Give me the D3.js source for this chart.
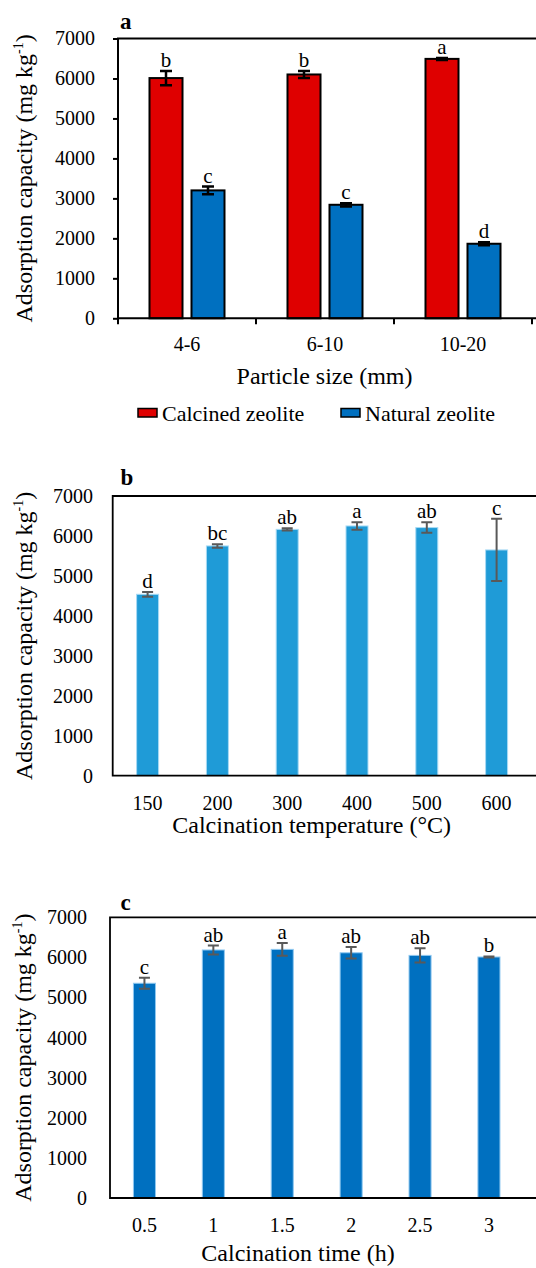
<!DOCTYPE html>
<html><head><meta charset="utf-8">
<script src="https://cdn.jsdelivr.net/npm/d3@7"></script>
<style>
body{margin:0;background:#fff;}
svg{display:block;font-family:"Liberation Serif","Times New Roman",serif;}
</style></head>
<body>
<svg id="chart" width="536" height="1268"></svg>
<script>
// ---------- Data ----------
const yTicks = [0, 1000, 2000, 3000, 4000, 5000, 6000, 7000];

const sizeCats = ["4-6", "6-10", "10-20"];
const seriesNames = ["Calcined zeolite", "Natural zeolite"];
const calcinedVals = [6010, 6100, 6490];
const calcinedErr = [180, 90, 25];
const calcinedLetters = ["b", "b", "a"];
const naturalVals = [3200, 2840, 1865];
const naturalErr = [95, 40, 40];
const naturalLetters = ["c", "c", "d"];

const tempCats = ["150", "200", "300", "400", "500", "600"];
const tempVals = [4540, 5750, 6165, 6250, 6210, 5650];
const tempErr = [60, 45, 30, 95, 130, 780];
const tempLetters = ["d", "bc", "ab", "a", "ab", "c"];

const timeCats = ["0.5", "1", "1.5", "2", "2.5", "3"];
const timeVals = [5355, 6185, 6200, 6115, 6050, 6010];
const timeErr = [135, 110, 160, 145, 180, 15];
const timeLetters = ["c", "ab", "a", "ab", "ab", "b"];

// ---------- Drawing ----------
const svg = d3.select("#chart");

function frame(g, x0, y0, y1, xEnd, sw) {
  g.append("path")
    .attr("d", `M${xEnd},${y0}H${x0}V${y1}H${xEnd}`)
    .attr("fill", "none").attr("stroke", "#000").attr("stroke-width", sw);
}

function yAxisLabels(g, y, xRight, withTicks, x0) {
  const ax = d3.axisLeft(y).tickValues(yTicks).tickFormat(d3.format("d"))
    .tickSize(withTicks ? 5 : 0).tickPadding(withTicks ? (x0 - xRight - 5) : (x0 - xRight));
  const a = g.append("g").attr("transform", `translate(${x0},0)`).call(ax);
  a.select(".domain").remove();
  a.selectAll("line").attr("stroke", "#000").attr("stroke-width", 2);
  a.selectAll("text").attr("font-size", 20).attr("fill", "#000")
    .attr("font-family", "Liberation Serif");
}

function yTitle(g, x, yc) {
  const t = g.append("text")
    .attr("transform", `translate(${x},${yc}) rotate(-90)`)
    .attr("text-anchor", "middle").attr("font-size", 24).attr("fill", "#000");
  t.append("tspan").text("Adsorption capacity (mg kg");
  t.append("tspan").attr("font-size", 14).attr("dy", -9).text("-1");
  t.append("tspan").attr("dy", 9).text(")");
}

function errBars(g, xs, vals, errs, y, cap, color, sw) {
  vals.forEach((v, i) => {
    const cx = xs[i];
    const e = errs[i];
    g.append("path")
      .attr("d", `M${cx},${y(v + e)}V${y(v - e)}M${cx - cap / 2},${y(v + e)}H${cx + cap / 2}M${cx - cap / 2},${y(v - e)}H${cx + cap / 2}`)
      .attr("stroke", color).attr("stroke-width", sw).attr("fill", "none");
  });
}

function letters(g, xs, vals, errs, labels, y) {
  labels.forEach((l, i) => {
    g.append("text").attr("x", xs[i]).attr("y", y(vals[i] + errs[i]) - 4)
      .attr("text-anchor", "middle").attr("font-size", 21).attr("fill", "#000").text(l);
  });
}

// ===== Panel a =====
{
  const g = svg.append("g");
  const top = 38.5, bot = 318.3, left = 118, right = 532;
  const y = d3.scaleLinear().domain([0, 7000]).range([bot, top]);
  const x = d3.scaleBand().domain(sizeCats).range([left, right]).padding(0);
  const xs = d3.scaleBand().domain(seriesNames).range([0, x.bandwidth()])
    .paddingInner(0.214).paddingOuter(0.75);

  const series = [
    {name: seriesNames[0], vals: calcinedVals, errs: calcinedErr, lets: calcinedLetters, color: "#df0000"},
    {name: seriesNames[1], vals: naturalVals, errs: naturalErr, lets: naturalLetters, color: "#0070c0"}
  ];
  series.forEach(s => {
    g.selectAll(null).data(sizeCats).enter().append("rect")
      .attr("x", d => x(d) + xs(s.name))
      .attr("width", xs.bandwidth())
      .attr("y", (d, i) => y(s.vals[i]))
      .attr("height", (d, i) => bot - y(s.vals[i]))
      .attr("fill", s.color).attr("stroke", "#000").attr("stroke-width", 2);
    const cxs = sizeCats.map(d => x(d) + xs(s.name) + xs.bandwidth() / 2);
    errBars(g, cxs, s.vals, s.errs, y, 12, "#000", 2.5);
    letters(g, cxs, s.vals, s.errs, s.lets, y);
  });

  frame(g, left, top, bot, 545, 2);
  // x tick marks at category boundaries
  sizeCats.concat([null]).forEach((d, i) => {
    const xx = d === null ? right : x(d);
    g.append("line").attr("x1", xx).attr("x2", xx).attr("y1", bot).attr("y2", bot + 6)
      .attr("stroke", "#000").attr("stroke-width", 2);
  });
  sizeCats.forEach(d => {
    g.append("text").attr("x", x(d) + x.bandwidth() / 2).attr("y", bot + 33)
      .attr("text-anchor", "middle").attr("font-size", 20).text(d);
  });
  yAxisLabels(g, y, 95, true, left);
  yTitle(g, 32, (top + bot) / 2);
  g.append("text").attr("x", 324.5).attr("y", 384).attr("text-anchor", "middle")
    .attr("font-size", 24).text("Particle size (mm)");
  g.append("text").attr("x", 120).attr("y", 28.5).attr("font-size", 23)
    .attr("font-weight", "bold").text("a");

  // legend
  const leg = [{x: 138, name: seriesNames[0], color: "#df0000"}, {x: 341, name: seriesNames[1], color: "#0070c0"}];
  leg.forEach(l => {
    g.append("rect").attr("x", l.x).attr("y", 408.5).attr("width", 19).attr("height", 8.5)
      .attr("fill", l.color).attr("stroke", "#000").attr("stroke-width", 1.5);
    g.append("text").attr("x", l.x + 24).attr("y", 421).attr("font-size", 22).text(l.name);
  });
}

// ===== Panels b and c =====
function singlePanel(opts) {
  const g = svg.append("g");
  const {top, bot, left, right, cats, vals, errs, lets, color, stroke, labelX, title, titleX, titleY, letter, letterY, yTitleX} = opts;
  const y = d3.scaleLinear().domain([0, 7000]).range([bot, top]);
  const x = d3.scaleBand().domain(cats).range([left, right])
    .paddingInner(opts.pad).paddingOuter(opts.pad / 2);
  g.selectAll(null).data(cats).enter().append("rect")
    .attr("x", d => x(d)).attr("width", x.bandwidth())
    .attr("y", (d, i) => y(vals[i])).attr("height", (d, i) => bot - y(vals[i]))
    .attr("fill", color).attr("stroke", stroke).attr("stroke-width", 1);
  const cxs = cats.map(d => x(d) + x.bandwidth() / 2);
  errBars(g, cxs, vals, errs, y, 11, "#595959", 2);
  letters(g, cxs, vals, errs, lets, y);
  frame(g, left, top, bot, 545, 1.8);
  cats.forEach(d => {
    g.append("text").attr("x", x(d) + x.bandwidth() / 2).attr("y", bot + 34)
      .attr("text-anchor", "middle").attr("font-size", 20).text(d);
  });
  yAxisLabels(g, y, labelX, false, left);
  yTitle(g, yTitleX, (top + bot) / 2);
  g.append("text").attr("x", titleX).attr("y", titleY).attr("text-anchor", "middle")
    .attr("font-size", 24).text(title);
  g.append("text").attr("x", 120.5).attr("y", letterY).attr("font-size", 23)
    .attr("font-weight", "bold").text(letter);
}

singlePanel({
  top: 496, bot: 775.7, left: 112.7, right: 531.5, pad: 0.685,
  cats: tempCats, vals: tempVals, errs: tempErr, lets: tempLetters,
  color: "#1f9bd7", stroke: "#a8daf4", labelX: 93,
  title: "Calcination temperature (\u00B0C)", titleX: 311.7, titleY: 833,
  letter: "b", letterY: 485, yTitleX: 32
});

singlePanel({
  top: 917.3, bot: 1198, left: 110, right: 523.4, pad: 0.68,
  cats: timeCats, vals: timeVals, errs: timeErr, lets: timeLetters,
  color: "#0070c0", stroke: "#8fc8f0", labelX: 87,
  title: "Calcination time (h)", titleX: 298, titleY: 1261,
  letter: "c", letterY: 910, yTitleX: 31
});
</script>
</body></html>
